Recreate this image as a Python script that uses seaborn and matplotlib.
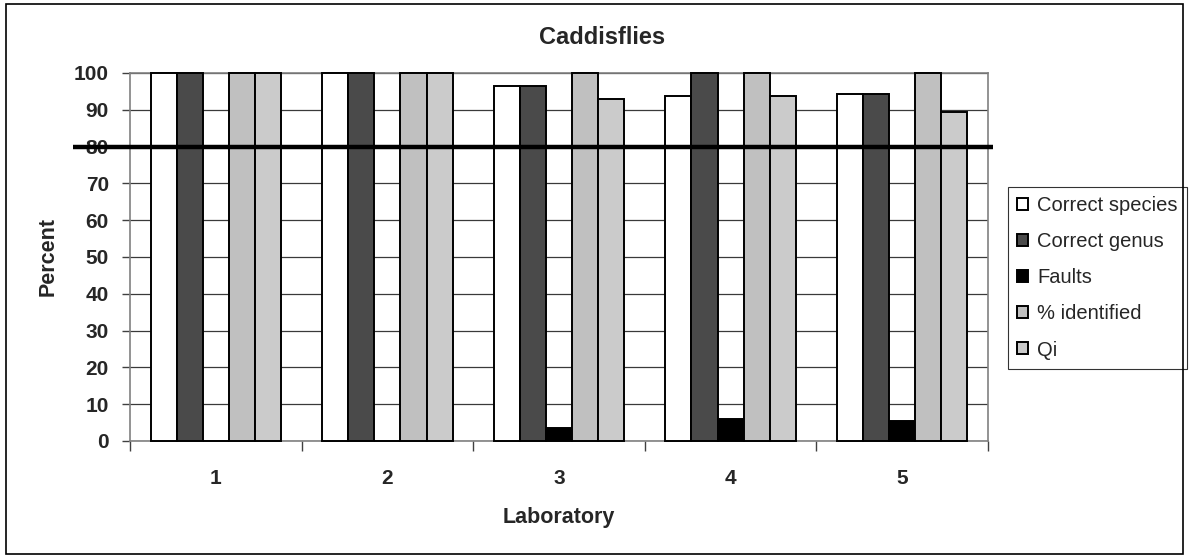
import matplotlib
matplotlib.use("Agg")
import matplotlib.pyplot as plt
import seaborn as sns
import pandas as pd
import numpy as np
from matplotlib.patches import Rectangle
import matplotlib.transforms as mtransforms

laboratories = ["1", "2", "3", "4", "5"]
correct_species = [100, 100, 96.4, 93.8, 94.3]
correct_genus = [100, 100, 96.4, 100, 94.3]
faults = [0, 0, 3.4, 6.0, 5.5]
pct_identified = [100, 100, 100, 100, 100]
qi = [100, 100, 92.8, 93.8, 89.3]
series_names = ["Correct species", "Correct genus", "Faults", "% identified", "Qi"]
series_colors = ["#ffffff", "#4a4a4a", "#000000", "#c0c0c0", "#cbcbcb"]
threshold = 80
y_ticks = list(range(0, 101, 10))

sns.set_style("white")
plt.rcParams["font.family"] = ["Liberation Sans", "DejaVu Sans"]

rows = []
for name, vals in zip(series_names, [correct_species, correct_genus, faults, pct_identified, qi]):
    for lab, v in zip(laboratories, vals):
        rows.append({"Laboratory": lab, "Series": name, "Percent": v})
df = pd.DataFrame(rows)

fig = plt.figure(figsize=(11.9, 5.58), dpi=100)
ax = fig.add_axes([130/1190, 1-441/558, 858/1190, 368/558])

sns.barplot(data=df, x="Laboratory", y="Percent", hue="Series", order=laboratories,
            hue_order=series_names, palette=series_colors, width=0.76, gap=0,
            edgecolor="black", linewidth=1.4, ax=ax, zorder=3)
for p in ax.patches:
    p.set_clip_on(False)

ax.set_ylim(0, 100)
ax.set_xlim(-0.5, 4.5)
ax.set_yticks(y_ticks)
ax.yaxis.grid(True, color="#3a3a3a", linewidth=0.9, zorder=0)
ax.set_axisbelow(True)
for s in ax.spines.values():
    s.set_color("#808080")
    s.set_linewidth(1.2)
    s.set_visible(True)

ax.tick_params(axis="y", left=True, length=5.8, width=1, color="#404040", pad=9.4, labelsize=15)
ax.tick_params(axis="x", which="major", bottom=True, length=0, pad=20, labelsize=15)
ax.set_xticks(np.arange(-0.5, 5.0, 1.0), minor=True)
ax.tick_params(axis="x", which="minor", bottom=True, length=7, width=1, color="#404040")
for lbl in ax.get_xticklabels() + ax.get_yticklabels():
    lbl.set_fontweight("bold")

ax.set_xlabel("Laboratory", fontsize=15.5, fontweight="bold", labelpad=14)
ax.set_ylabel("Percent", fontsize=15.5, fontweight="bold", labelpad=11)
fig.text(0.506, 1-44/558, "Caddisflies", fontsize=17, fontweight="bold",
         ha="center", va="baseline")

trans = mtransforms.blended_transform_factory(ax.transAxes, ax.transData)
ax.plot([-0.066, 1.006], [threshold, threshold], color="black", linewidth=3.2,
        transform=trans, clip_on=False, zorder=5, solid_capstyle="butt")

handles, labels = ax.get_legend_handles_labels()
ax.legend(handles, labels, loc="upper left", bbox_to_anchor=(1008/1190, 1-187/558),
          bbox_transform=fig.transFigure, frameon=True, fancybox=False,
          edgecolor="black", fontsize=14.5, handlelength=0.55, handleheight=0.55,
          handletextpad=0.45, labelspacing=0.85, borderpad=0.45, borderaxespad=0)
leg = ax.get_legend()
leg.get_frame().set_linewidth(0.8)

fig.patches.append(Rectangle((6/1190, 4/558), 1177/1190, 550/558, transform=fig.transFigure,
                             fill=False, edgecolor="black", linewidth=1.2))

fig.savefig("out.png", dpi=100, facecolor="white")
